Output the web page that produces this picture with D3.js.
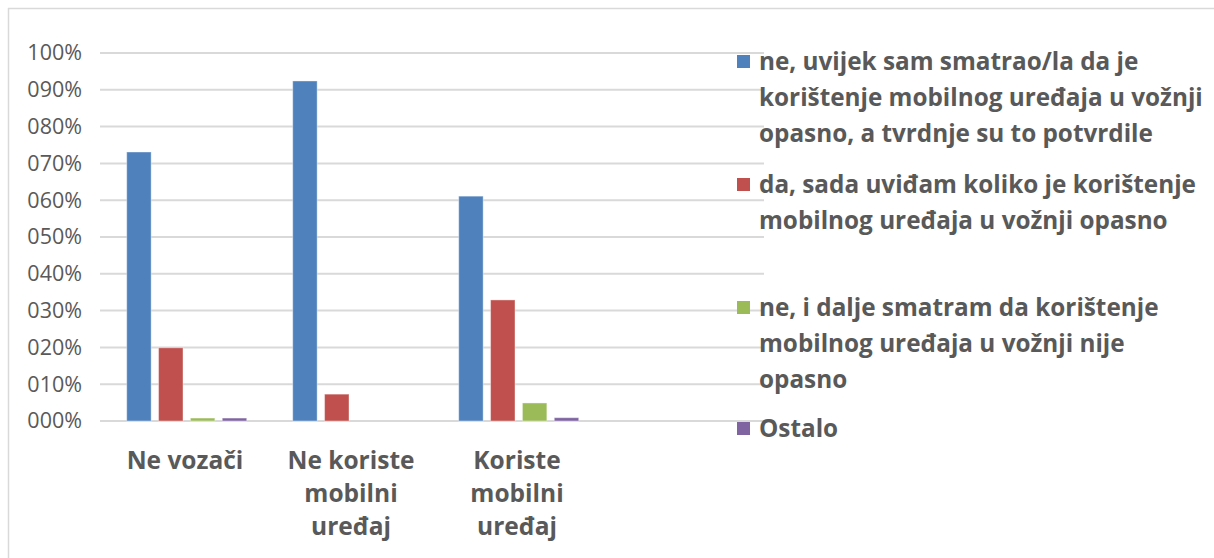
<!DOCTYPE html>
<html><head><meta charset="utf-8">
<script src="https://cdn.jsdelivr.net/npm/d3@7"></script>
<style>body{margin:0;background:#fff}svg{display:block}</style>
</head><body>
<svg id="c" width="1214" height="558"></svg>
<script>
const categories = ["Ne vozači", "Ne koriste mobilni uređaj", "Koriste mobilni uređaj", ""];
const categoryLines = [["Ne vozači"], ["Ne koriste", "mobilni", "uređaj"], ["Koriste", "mobilni", "uređaj"], []];
const seriesNames = [
  "ne, uvijek sam smatrao/la da je\nkorištenje mobilnog uređaja u vožnji\nopasno, a tvrdnje su to potvrdile",
  "da, sada uviđam koliko je korištenje\nmobilnog uređaja u vožnji opasno",
  "ne, i dalje smatram da korištenje\nmobilnog uređaja u vožnji nije\nopasno",
  "Ostalo"
];
const seriesA = [0.731, 0.924, 0.611]; // ne, uvijek...
const seriesB = [0.199, 0.073, 0.329]; // da, sada...
const seriesC = [0.008, 0, 0.049];     // ne, i dalje...
const seriesD = [0.008, 0, 0.009];     // Ostalo
const yTicks = [0, 0.1, 0.2, 0.3, 0.4, 0.5, 0.6, 0.7, 0.8, 0.9, 1.0];
const yTickLabels = ["000%", "010%", "020%", "030%", "040%", "050%", "060%", "070%", "080%", "090%", "100%"];

const colors = ["#4F81BD", "#C0504D", "#9BBB59", "#8064A2"];
const allSeries = [seriesA, seriesB, seriesC, seriesD];
const font = "'Open Sans', sans-serif";
const textColor = "#595959";

const svg = d3.select("#c");
svg.append("rect").attr("x", 8.5).attr("y", 8.5).attr("width", 1214).attr("height", 560)
  .attr("fill", "#fff").attr("stroke", "#D9D9D9").attr("stroke-width", 1.5);

const pL = 100, pR = 764, pT = 53, pB = 421;
const x = d3.scaleBand().domain(categories).range([pL, pR]).paddingInner(0).paddingOuter(0);
const y = d3.scaleLinear().domain([0, 1]).range([pB, pT]);
const xs = d3.scaleBand().domain(d3.range(4)).range([0, 120]).paddingInner(0.233).paddingOuter(0);

// gridlines
svg.append("g").selectAll("line").data(yTicks).join("line")
  .attr("x1", pL).attr("x2", pR)
  .attr("y1", d => y(d)).attr("y2", d => y(d))
  .attr("stroke", "#D9D9D9").attr("stroke-width", 2);

// y labels
const yAxis = d3.axisLeft(y).tickValues(yTicks).tickFormat((d, i) => yTickLabels[i]).tickSize(0).tickPadding(18);
const ga = svg.append("g").attr("transform", `translate(${pL},0)`).call(yAxis);
ga.select(".domain").remove();
ga.selectAll("text").attr("font-family", font).attr("font-size", 21.5).attr("fill", textColor);

// bars
const groupW = 120 - xs.step() + xs.bandwidth();
categories.slice(0, 3).forEach((cat, ci) => {
  const gx = x(cat) + (x.bandwidth() - groupW) / 2;
  allSeries.forEach((s, si) => {
    const v = s[ci];
    if (v <= 0) return;
    svg.append("rect")
      .attr("x", gx + xs(si)).attr("width", xs.bandwidth())
      .attr("y", y(v)).attr("height", y(0) - y(v))
      .attr("fill", colors[si]).attr("stroke", "#fff").attr("stroke-opacity", 0.4).attr("stroke-width", 1);
  });
});

// category labels
categories.forEach((cat, ci) => {
  const t = svg.append("text").attr("text-anchor", "middle")
    .attr("font-family", font).attr("font-size", 24.5).attr("font-weight", "bold").attr("fill", textColor);
  categoryLines[ci].forEach((ln, li) => {
    t.append("tspan").attr("x", x(cat) + x.bandwidth() / 2 + 2).attr("y", 469 + li * 33).text(ln);
  });
});

// legend
const legendY = [61, 184, 307, 428];
seriesNames.forEach((name, si) => {
  svg.append("rect").attr("x", 737).attr("y", legendY[si] - 6).attr("width", 13).attr("height", 13).attr("fill", colors[si]);
  const t = svg.append("text").attr("font-family", font).attr("font-size", 24.3).attr("font-weight", "bold").attr("fill", textColor);
  name.split("\n").forEach((ln, li) => {
    t.append("tspan").attr("x", 759).attr("y", legendY[si] + 9 + li * 36).text(ln);
  });
});
</script>
</body></html>
